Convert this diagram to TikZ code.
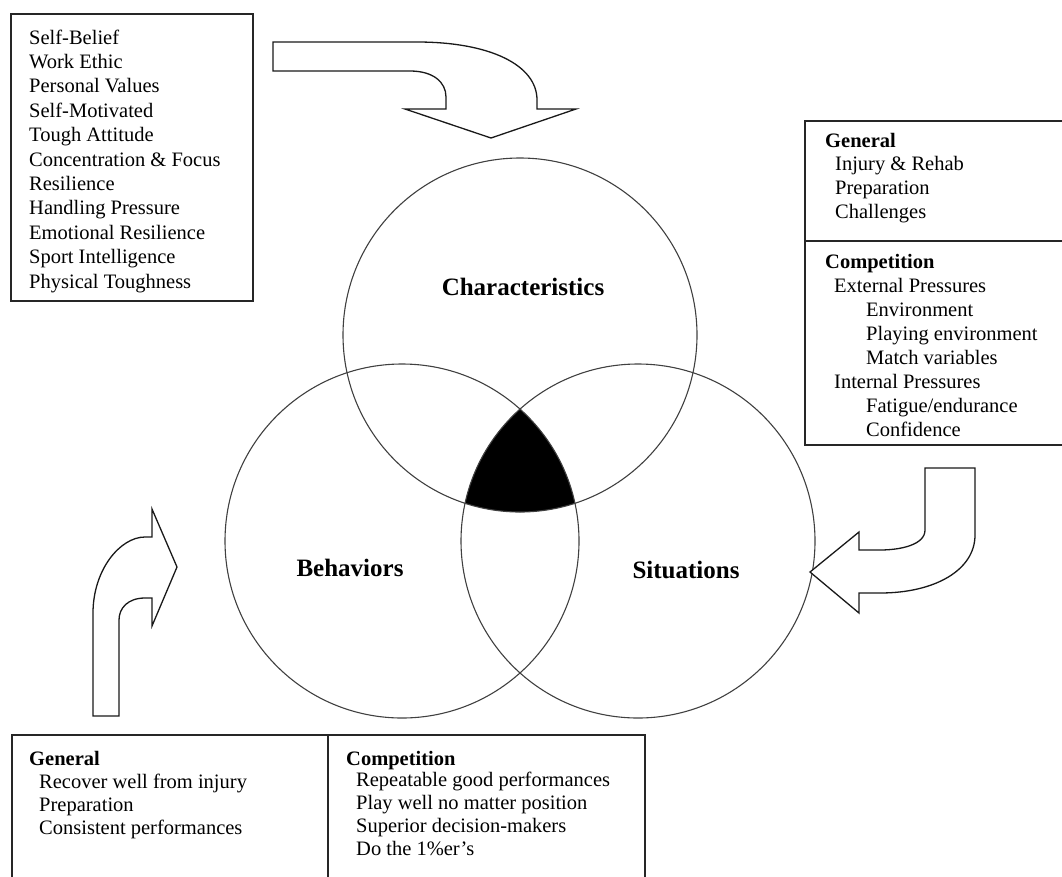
\documentclass[tikz,border=0pt]{standalone}
\usepackage{fontspec}
\setmainfont{Liberation Serif}
\begin{document}
\begin{tikzpicture}[x=1pt,y=-1pt,
  txt/.style={anchor=base west,inner sep=0pt,font=\fontsize{20.5pt}{24pt}\selectfont},
  hdr/.style={anchor=base west,inner sep=0pt,font=\fontsize{20.5pt}{24pt}\selectfont\bfseries},
  lbl/.style={inner sep=0pt,font=\fontsize{25pt}{30pt}\selectfont\bfseries},
  ring/.style={draw=black!75,line width=1.1pt},
  boxline/.style={draw=black!85,line width=1.6pt},
  blockarrow/.style={draw=black!90,line width=1.3pt,fill=white,line join=miter}]
\useasboundingbox (0,0) rectangle (1062,876);
\clip (0,0) rectangle (1062,876);

% Venn circles
\coordinate (cC) at (520,335);
\coordinate (cB) at (402,541);
\coordinate (cS) at (638,541);
\begin{scope}
  \clip (cC) circle[radius=177pt];
  \clip (cB) circle[radius=177pt];
  \fill[black] (cS) circle[radius=177pt];
\end{scope}
\draw[ring] (cC) circle[radius=177pt];
\draw[ring] (cB) circle[radius=177pt];
\draw[ring] (cS) circle[radius=177pt];
\node[lbl] (lc) at (523,287) {Characteristics};
\node[lbl] (lb) at (350,568) {Behaviors};
\node[lbl] (ls) at (686,570) {Situations};

% top-left box
\draw[boxline] (11,14) rectangle (253,301);
\foreach \t [count=\i] in {Self-Belief,Work Ethic,Personal Values,Self-Motivated,Tough Attitude,Concentration \& Focus,Resilience,Handling Pressure,Emotional Resilience,Sport Intelligence,Physical Toughness}
  \node[txt] (tl\i) at ({29},{44+24.4*(\i-1)}) {\t};

% right box
\draw[boxline] (1070,121) -- (805,121) -- (805,445) -- (1070,445);
\draw[boxline] (805,241) -- (1070,241);
\node[hdr] (rg) at (825,147) {General};
\node[txt] (rg1) at (835,170) {Injury \& Rehab};
\node[txt] (rg2) at (835,194) {Preparation};
\node[txt] (rg3) at (835,218) {Challenges};
\node[hdr] (rc) at (825,268) {Competition};
\node[txt] (rc1) at (834,292) {External Pressures};
\node[txt] (rc2) at (866,316) {Environment};
\node[txt] (rc3) at (866,340) {Playing environment};
\node[txt] (rc4) at (866,364) {Match variables};
\node[txt] (rc5) at (834,388) {Internal Pressures};
\node[txt] (rc6) at (866,412) {Fatigue/endurance};
\node[txt] (rc7) at (866,436) {Confidence};

% bottom box
\draw[boxline] (12,890) -- (12,735) -- (645,735) -- (645,890);
\draw[boxline] (328,735) -- (328,890);
\node[hdr] (bg) at (29,765) {General};
\node[txt] (bg1) at (39,788) {Recover well from injury};
\node[txt] (bg2) at (39,811) {Preparation};
\node[txt] (bg3) at (39,834) {Consistent performances};
\node[hdr] (bc) at (346,765) {Competition};
\node[txt] (bc1) at (356,786) {Repeatable good performances};
\node[txt] (bc2) at (356,809) {Play well no matter position};
\node[txt] (bc3) at (356,832) {Superior decision-makers};
\node[txt] (bc4) at (356,855) {Do the 1\%er’s};

% block arrows
\draw[blockarrow] (273,42) -- (417,42) .. controls (490,42) and (537,65) .. (537,100)
  -- (537,109) -- (576,109) -- (491,138) -- (405,109) -- (446,109) -- (446,97)
  .. controls (446,82) and (433,71) .. (410,71) -- (273,71) -- cycle;
\draw[blockarrow] (925,468) -- (975,468) -- (975,535) .. controls (975,570) and (935,593) .. (880,593)
  -- (859,593) -- (859,613) -- (810,572) -- (859,532) -- (859,550) -- (880,550)
  .. controls (900,550) and (925,545) .. (925,530) -- cycle;
\draw[blockarrow] (93,716) -- (93,613) .. controls (93,570) and (120,537) .. (145,537)
  -- (152,537) -- (152,509) -- (177,567) -- (152,626) -- (152,598) -- (145,598)
  .. controls (128,598) and (119,608) .. (119,620) -- (119,716) -- cycle;
\end{tikzpicture}
\end{document}
